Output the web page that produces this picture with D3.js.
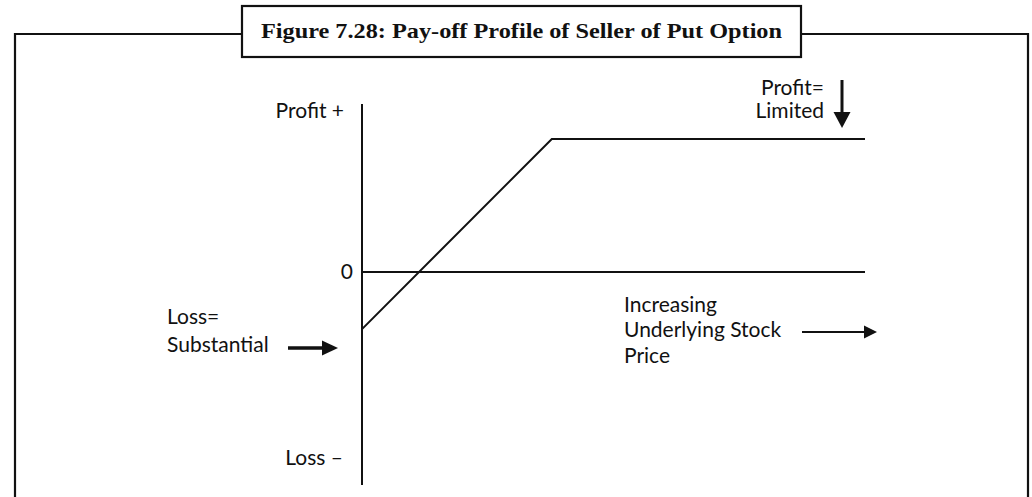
<!DOCTYPE html>
<html>
<head>
<meta charset="utf-8">
<script src="https://cdn.jsdelivr.net/npm/d3@7"></script>
<style>
  html, body { margin: 0; padding: 0; background: #fff; }
  svg { display: block; }
  .lbl { font-family: Lato, "Open Sans", sans-serif; font-size: 21px; font-weight: 400; fill: #111; }
</style>
</head>
<body>
<svg id="chart" width="1032" height="497"></svg>
<script>
// Pay-off of a short put: stock price vs. profit (strike 10, premium 7)
const titleText = "Figure 7.28: Pay-off Profile of Seller of Put Option";
const stockPrice = [0, 10, 26.5];
const payoff = [-3, 7, 7];
const priceRange = [0, 26.5];
const payoffRange = [-11.2, 8.84];

const svg = d3.select("#chart");
const W = 1032, H = 497;

const x = d3.scaleLinear().domain(priceRange).range([362, 865]);
const y = d3.scaleLinear().domain(payoffRange).range([485, 104]);

// Frame with title box
const frame = svg.append("g").attr("fill", "none").attr("stroke", "#111").attr("stroke-width", 2.2);
const box = { x0: 242, x1: 801, y0: 6, y1: 57 };
frame.append("path").attr("d", `M15,${H} V34 H${box.x0} M${box.x1},34 H1028 V${H}`);
frame.append("rect").attr("x", box.x0).attr("y", box.y0)
  .attr("width", box.x1 - box.x0).attr("height", box.y1 - box.y0);

svg.append("text")
  .attr("x", (box.x0 + box.x1) / 2).attr("y", 37.5)
  .attr("text-anchor", "middle")
  .attr("font-family", '"Liberation Serif", "DejaVu Serif", serif')
  .attr("font-weight", "bold").attr("font-size", 21.5)
  .attr("textLength", 521).attr("lengthAdjust", "spacingAndGlyphs")
  .attr("fill", "#111")
  .text(titleText);

// Axes: vertical profit/loss axis and the zero line
const axes = svg.append("g").attr("stroke", "#111").attr("stroke-width", 2).attr("fill", "none");
axes.append("line").attr("x1", x(0)).attr("x2", x(0)).attr("y1", y(payoffRange[1])).attr("y2", y(payoffRange[0]));
axes.append("line").attr("x1", x(priceRange[0])).attr("x2", x(priceRange[1])).attr("y1", y(0)).attr("y2", y(0));

// Pay-off line
const line = d3.line().x(d => x(d[0])).y(d => y(d[1]));
svg.append("path")
  .datum(d3.zip(stockPrice, payoff))
  .attr("d", line)
  .attr("fill", "none").attr("stroke", "#111").attr("stroke-width", 2);

// Labels
const lbl = (tx, ty, t, anchor) => svg.append("text").attr("class", "lbl")
  .attr("x", tx).attr("y", ty).attr("text-anchor", anchor || "start").text(t);

lbl(344, 118, "Profit +", "end");
lbl(353, y(0) + 7, "0", "end");
lbl(343, 465, "Loss \u2013", "end");
lbl(167, 324, "Loss=");
lbl(167, 352, "Substantial");
lbl(824, 95, "Profit=", "end");
lbl(824, 118, "Limited", "end");
lbl(624, 312, "Increasing");
lbl(624, 337, "Underlying Stock");
lbl(624, 363, "Price");

// Arrows
function arrow(x1, y1, x2, y2, head, width, sw) {
  const ang = Math.atan2(y2 - y1, x2 - x1);
  const bx = x2 - head * Math.cos(ang), by = y2 - head * Math.sin(ang);
  const px = -Math.sin(ang) * width / 2, py = Math.cos(ang) * width / 2;
  svg.append("line").attr("x1", x1).attr("y1", y1).attr("x2", bx).attr("y2", by)
    .attr("stroke", "#111").attr("stroke-width", sw);
  svg.append("path")
    .attr("d", `M${x2},${y2} L${bx + px},${by + py} L${bx - px},${by - py} Z`)
    .attr("fill", "#111");
}
arrow(842, 80, 842, 128, 16, 17, 3);
arrow(288, 348, 338, 348, 16, 15, 3.5);
arrow(802, 332, 877, 332, 13, 13, 2);
</script>
</body>
</html>
